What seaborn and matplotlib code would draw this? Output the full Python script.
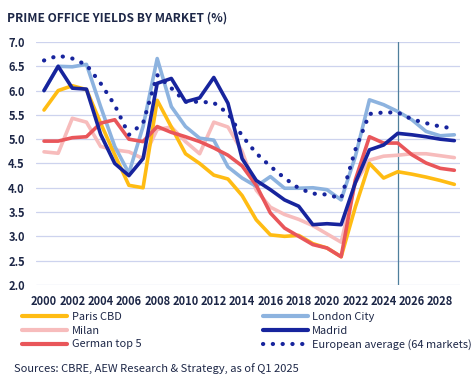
import numpy as np
import pandas as pd
import seaborn as sns
import matplotlib.pyplot as plt
from matplotlib.lines import Line2D


years = list(range(2000, 2030))

paris = [5.60, 6.00, 6.10, 6.02, 5.33, 4.68, 4.05, 4.00, 5.80, 5.25,
         4.70, 4.50, 4.26, 4.18, 3.84, 3.34, 3.03, 3.00, 3.02, 2.85,
         2.76, 2.58, 3.60, 4.50, 4.20, 4.33, 4.28, 4.22, 4.15, 4.07]
london = [6.00, 6.50, 6.49, 6.54, 5.67, 4.85, 4.30, 5.26, 6.66, 5.67,
          5.26, 5.02, 4.98, 4.43, 4.20, 4.03, 4.23, 3.99, 3.99, 4.00,
          3.96, 3.75, 4.64, 5.81, 5.71, 5.57, 5.40, 5.16, 5.07, 5.09]
milan = [4.74, 4.71, 5.43, 5.35, 4.85, 4.78, 4.74, 4.60, 5.20, 5.25,
         4.95, 4.70, 5.35, 5.25, 4.75, 3.95, 3.60, 3.45, 3.35, 3.22,
         3.05, 2.88, 4.10, 4.57, 4.65, 4.67, 4.70, 4.70, 4.66, 4.62]
madrid = [6.00, 6.50, 6.05, 6.03, 5.10, 4.50, 4.25, 4.60, 6.15, 6.25,
          5.77, 5.85, 6.27, 5.74, 4.60, 4.15, 3.96, 3.75, 3.62, 3.24,
          3.26, 3.24, 4.10, 4.78, 4.88, 5.12, 5.09, 5.05, 5.00, 4.97]
german = [4.96, 4.96, 5.03, 5.05, 5.33, 5.40, 5.00, 4.95, 5.26, 5.14,
          5.05, 4.95, 4.82, 4.67, 4.45, 4.05, 3.48, 3.17, 3.00, 2.83,
          2.76, 2.58, 4.16, 5.05, 4.92, 4.92, 4.68, 4.51, 4.40, 4.36]
euro_avg = [6.62, 6.72, 6.66, 6.53, 6.15, 5.70, 5.09, 5.33, 6.32, 6.05,
            5.77, 5.77, 5.75, 5.53, 5.07, 4.71, 4.44, 4.20, 3.99, 3.88,
            3.86, 3.78, 4.78, 5.52, 5.55, 5.55, 5.41, 5.33, 5.26, 5.22]

forecast_year = 2025
x_ticks = list(range(2000, 2029, 2))
y_ticks = [2.0, 2.5, 3.0, 3.5, 4.0, 4.5, 5.0, 5.5, 6.0, 6.5, 7.0]

navy = "#1d2747"
c_paris, c_london, c_milan = "#ffbc13", "#8db3df", "#f7bcbc"
c_madrid, c_german = "#17249d", "#e9565a"

sns.set_theme(style="white")
# Noto Sans CJK has narrow latin glyphs, closest to the condensed face used
plt.rcParams["font.family"] = ["Noto Sans CJK SC", "DejaVu Sans"]

fig = plt.figure(figsize=(4.73, 3.84), dpi=100)
ax = fig.add_axes([0.076, 0.258, 0.8965, 0.6326])

series = [
    (milan, c_milan),
    (paris, c_paris),
    (london, c_london),
    (german, c_german),
    (madrid, c_madrid),
]
df = pd.DataFrame({"year": years})
for vals, col in series:
    sns.lineplot(x=df["year"], y=vals, ax=ax, color=col, linewidth=2.6,
                 solid_capstyle="round", solid_joinstyle="round")

sns.lineplot(x=df["year"], y=euro_avg, ax=ax, color=c_madrid, linewidth=3,
             linestyle=(0, (0.05, 2.3)), dash_capstyle="round")

ax.axvline(forecast_year, color="#4f7f9c", linewidth=0.9, zorder=1)

ax.set_xlim(1999.43, 2029.4)
ax.set_ylim(2.0, 7.0)
ax.set_xticks(x_ticks)
ax.set_yticks(y_ticks)
ax.set_yticklabels([f"{v:.1f}" for v in y_ticks])
ax.grid(axis="y", color="#cdd3ee", linewidth=0.9)
ax.grid(axis="x", visible=False)
ax.set_axisbelow(True)
for s in ax.spines.values():
    s.set_visible(False)
ax.tick_params(axis="both", length=0, labelsize=8, labelcolor=navy)
ax.tick_params(axis="y", pad=8)
ax.tick_params(axis="x", pad=7)
ax.set_xlabel("")
ax.set_ylabel("")
for lab in ax.get_xticklabels() + ax.get_yticklabels():
    lab.set_fontweight("bold")

fig.text(0.015, 0.953, "PRIME OFFICE YIELDS BY MARKET (%)", fontsize=8.6,
         fontweight="bold", color=navy, va="center", ha="left")


def h(col, dotted=False):
    if dotted:
        return Line2D([], [], color=col, linewidth=3, linestyle=(0, (0.05, 2.3)),
                      dash_capstyle="round")
    return Line2D([], [], color=col, linewidth=3, solid_capstyle="round")


leg_kw = dict(frameon=False, loc="upper left", fontsize=7.9,
              handlelength=4.1, handletextpad=0.4, labelspacing=0.33,
              borderpad=0, borderaxespad=0, labelcolor=navy)
fig.legend([h(c_paris), h(c_milan), h(c_german)],
           ["Paris CBD", "Milan", "German top 5"],
           bbox_to_anchor=(0.047, 0.187), **leg_kw)
fig.legend([h(c_london), h(c_madrid), h(c_madrid, dotted=True)],
           ["London City", "Madrid", "European average (64 markets)"],
           bbox_to_anchor=(0.555, 0.187), **leg_kw)

fig.text(0.03, 0.039, "Sources: CBRE, AEW Research & Strategy, as of Q1 2025",
         fontsize=8, color=navy, va="center", ha="left")

fig.savefig("out.png", dpi=100)
